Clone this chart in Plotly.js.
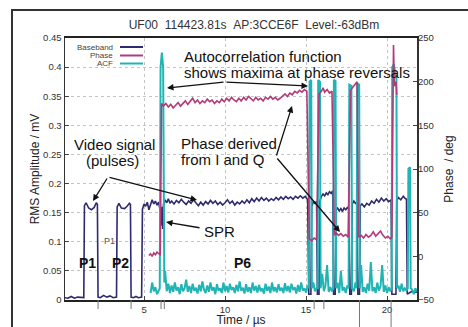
<!DOCTYPE html>
<html><head><meta charset="utf-8">
<script src="https://cdn.plot.ly/plotly-3.0.1.min.js"></script>
<style>body{margin:0;background:#fff}#chart{width:468px;height:327px}</style>
</head><body><div id="chart"></div>
<script>
// ---- data (time in µs) ----
const basebandPts = [
[0.12,0.004],[0.3,0.003],[0.5,0.006],[0.7,0.003],[0.9,0.005],[1.1,0.004],[1.28,0.004],
[1.32,0.162],[1.42,0.167],[1.58,0.158],[1.75,0.155],[1.92,0.159],[2.05,0.167],[2.12,0.164],
[2.16,0.005],[2.3,0.004],[2.5,0.008],[2.7,0.005],[2.9,0.007],[3.1,0.004],[3.3,0.005],
[3.34,0.16],[3.45,0.166],[3.6,0.158],[3.8,0.157],[3.95,0.161],[4.1,0.166],[4.16,0.164],
[4.2,0.005],[4.35,0.004],[4.5,0.006],[4.65,0.004],[4.85,0.005],
[4.9,0.156],[5.0,0.165],[5.1,0.161],[5.2,0.168],[5.3,0.155],[5.4,0.166],[5.5,0.172],[5.6,0.165],[5.7,0.17],[5.8,0.163],[5.9,0.168],
[6.0,0.152],[6.05,0.128],[6.1,0.16],[6.15,0.122],[6.2,0.164],[6.3,0.172],[6.4,0.167],[6.5,0.174],[6.6,0.166],[6.7,0.17],
[6.85,0.165],[7.0,0.171],[7.15,0.167],[7.3,0.173],[7.45,0.168],[7.6,0.164],[7.75,0.17],[7.9,0.166],[8.05,0.172],[8.2,0.167],
[8.35,0.162],[8.5,0.168],[8.65,0.163],[8.8,0.169],[8.95,0.165],[9.1,0.171],[9.25,0.166],[9.4,0.17],[9.55,0.164],[9.7,0.168],
[9.85,0.163],[10.0,0.167],[10.15,0.172],[10.3,0.166],[10.45,0.17],[10.6,0.163],[10.75,0.168],[10.9,0.165],[11.05,0.17],[11.2,0.166],
[11.35,0.172],[11.5,0.167],[11.65,0.174],[11.8,0.169],[11.95,0.175],[12.1,0.17],[12.25,0.176],[12.4,0.171],[12.55,0.175],[12.7,0.17],
[12.85,0.174],[13.0,0.171],[13.15,0.176],[13.3,0.172],[13.45,0.177],[13.6,0.173],[13.75,0.178],[13.9,0.174],[14.05,0.177],[14.2,0.173],
[14.35,0.178],[14.5,0.175],[14.65,0.179],[14.8,0.175],[14.95,0.178],[15.1,0.172],
[15.17,0.01],[15.3,0.01],[15.35,0.16],[15.45,0.17],[15.55,0.165],[15.65,0.17],
[15.7,0.01],[15.8,0.01],[15.85,0.17],[15.95,0.178],[16.05,0.182],[16.15,0.179],[16.25,0.184],[16.35,0.181],[16.45,0.186],[16.55,0.183],[16.65,0.188],
[16.7,0.01],[16.8,0.01],[16.85,0.155],[16.95,0.158],[17.05,0.153],[17.15,0.157],[17.25,0.152],[17.35,0.158],[17.45,0.155],[17.55,0.159],[17.65,0.156],
[17.7,0.01],[17.8,0.01],[17.85,0.165],[17.95,0.17],[18.05,0.166],[18.15,0.168],
[18.2,0.01],[18.3,0.01],[18.35,0.162],[18.45,0.165],[18.6,0.16],[18.75,0.166],[18.9,0.163],[19.05,0.17],[19.2,0.166],[19.35,0.173],
[19.5,0.168],[19.65,0.175],[19.8,0.17],[19.95,0.174],[20.1,0.169],[20.25,0.172],
[20.3,0.01],[20.45,0.01],[20.55,0.01],[20.6,0.17],[20.7,0.176],[20.85,0.172],[21.0,0.178],[21.1,0.175],[21.2,0.173],
[21.25,0.01],[21.4,0.012],[21.55,0.015],[21.7,0.013],[21.85,0.014]
];
const phasePts = [
[5.3,1],[5.4,3],[5.5,0],[5.6,4],[5.7,2],[5.8,5],[5.9,3],[6.0,2],
[6.08,175],[6.2,172],[6.35,175],[6.5,171],[6.65,174],[6.8,170],[6.95,173],[7.1,176],[7.25,172],[7.4,175],[7.55,178],[7.7,174],
[7.85,177],[8.0,181],[8.15,176],[8.3,179],[8.45,175],[8.6,178],[8.75,176],[8.9,180],[9.05,177],[9.2,179],[9.35,175],[9.5,178],
[9.65,176],[9.8,180],[9.95,177],[10.1,181],[10.25,178],[10.4,182],[10.55,179],[10.7,177],[10.85,181],[11.0,178],[11.15,182],
[11.3,179],[11.45,183],[11.6,180],[11.75,178],[11.9,182],[12.05,179],[12.2,181],[12.35,178],[12.5,182],[12.65,180],[12.8,183],
[12.95,180],[13.1,182],[13.25,179],[13.4,181],[13.55,184],[13.7,186],[13.85,183],[14.0,187],[14.15,185],[14.3,189],[14.45,187],
[14.6,190],[14.75,188],[14.9,191],[15.05,189],
[15.2,20],[15.35,18],[15.5,21],[15.65,19],
[15.8,186],[15.95,189],[16.05,193],[16.15,188],[16.3,191],[16.45,187],[16.6,189],
[16.75,24],[16.85,27],[17.0,24],[17.15,26],[17.3,23],[17.45,25],[17.6,22],
[17.75,190],[17.9,194],[18.05,197],[18.15,200],
[18.25,22],[18.4,24],[18.55,21],[18.7,25],[18.85,22],[19.0,24],[19.15,28],[19.3,23],[19.45,26],[19.6,29],[19.75,24],[19.9,21],
[20.05,23],[20.2,20],[20.3,22],
[20.4,242],[20.45,195],[20.55,200],[20.6,185]
];
const acfPts = [
[5.4,0.012],[5.5,0.03],[5.6,0.015],[5.7,0.022],[5.8,0.01],[5.9,0.018],[5.97,0.02],
[6.02,0.40],[6.1,0.425],[6.18,0.40],[6.25,0.03],[6.3,0.05],[6.4,0.015],[6.5,0.028],[6.6,0.012],[6.7,0.025],[6.8,0.014],[6.9,0.03],
[7.0,0.016],[7.1,0.022],[7.2,0.01],[7.3,0.027],[7.4,0.015],[7.5,0.02],[7.6,0.035],[7.7,0.014],[7.8,0.024],[7.9,0.012],[8.0,0.028],
[8.1,0.016],[8.2,0.021],[8.3,0.011],[8.4,0.026],[8.5,0.015],[8.6,0.032],[8.7,0.018],[8.8,0.012],[8.9,0.025],[9.0,0.014],[9.1,0.03],
[9.2,0.016],[9.3,0.022],[9.4,0.01],[9.5,0.027],[9.6,0.016],[9.7,0.02],[9.8,0.012],[9.9,0.03],[10.0,0.015],[10.1,0.024],[10.2,0.013],
[10.3,0.028],[10.4,0.017],[10.5,0.022],[10.6,0.012],[10.7,0.026],[10.8,0.015],[10.9,0.032],[11.0,0.016],[11.1,0.021],[11.2,0.011],
[11.3,0.027],[11.4,0.014],[11.5,0.022],[11.6,0.012],[11.7,0.03],[11.8,0.016],[11.9,0.024],[12.0,0.013],[12.1,0.026],[12.2,0.015],
[12.3,0.02],[12.4,0.011],[12.5,0.028],[12.6,0.016],[12.7,0.023],[12.8,0.012],[12.9,0.03],[13.0,0.015],[13.1,0.022],[13.2,0.013],
[13.3,0.027],[13.4,0.016],[13.5,0.021],[13.6,0.012],[13.7,0.029],[13.8,0.015],[13.9,0.024],[14.0,0.013],[14.1,0.028],[14.2,0.017],
[14.3,0.022],[14.4,0.011],[14.5,0.026],[14.6,0.014],[14.7,0.03],[14.8,0.016],[14.9,0.02],[15.0,0.013],[15.1,0.025],
[15.18,0.02],[15.22,0.375],[15.32,0.378],[15.36,0.02],[15.45,0.03],[15.55,0.015],[15.65,0.02],
[15.72,0.02],[15.75,0.378],[15.86,0.375],[15.9,0.02],[16.0,0.045],[16.1,0.015],[16.2,0.025],[16.3,0.06],[16.4,0.014],[16.5,0.022],[16.6,0.015],
[16.68,0.02],[16.72,0.378],[16.82,0.376],[16.86,0.02],[16.95,0.03],[17.05,0.012],[17.15,0.05],[17.25,0.016],[17.35,0.022],[17.45,0.012],[17.55,0.025],
[17.63,0.02],[17.67,0.37],[17.8,0.368],[17.84,0.02],[17.95,0.015],[18.05,0.03],
[18.12,0.02],[18.16,0.372],[18.28,0.37],[18.32,0.02],[18.4,0.06],[18.5,0.014],[18.6,0.022],[18.7,0.012],[18.8,0.028],[18.9,0.016],
[19.0,0.065],[19.1,0.015],[19.2,0.022],[19.3,0.012],[19.4,0.03],[19.5,0.016],[19.6,0.024],[19.7,0.06],[19.8,0.014],[19.9,0.025],
[20.0,0.012],[20.1,0.022],[20.2,0.015],
[20.28,0.02],[20.32,0.40],[20.42,0.405],[20.5,0.39],[20.58,0.38],[20.62,0.02],[20.7,0.025],[20.8,0.014],[20.9,0.028],[21.0,0.015],[21.1,0.02],[21.2,0.016],
[21.28,0.02],[21.32,0.225],[21.42,0.228],[21.46,0.02],[21.55,0.018],[21.65,0.01],[21.75,0.02],[21.85,0.015]
];
const xTicks = [5,10,15,20];
const leftTicks = [0,0.05,0.1,0.15,0.2,0.25,0.3,0.35,0.4,0.45];
const rightTicks = [-50,0,50,100,150,200,250];
const seriesNames = ['Baseband','Phase','ACF'];
const shortMarks = [2.16,4.2,6.05,6.25,15.5,16.1];
const longMarks = [18.3,20.25];

// ---- drawing ----
const FONT = 'Liberation Sans, Arial, sans-serif';
const colors = {Baseband:'#2e2a6e', Phase:'#b33a7a', ACF:'#20b4b4'};
const col = i => basebandPts.map(p=>p[i]);
const traces = [
  {x:phasePts.map(p=>p[0]), y:phasePts.map(p=>p[1]), yaxis:'y2', mode:'lines', name:'Phase',
   line:{color:colors.Phase,width:1.6}},
  {x:col(0), y:col(1), mode:'lines', name:'Baseband', line:{color:colors.Baseband,width:1.6}},
  {x:acfPts.map(p=>p[0]), y:acfPts.map(p=>p[1]), mode:'lines', name:'ACF', line:{color:colors.ACF,width:2}}
];
const L=65, R=417, T=38, B=300;
const px = v => (v-L)/(R-L);
const py = v => (B-v)/(B-T);
const ann = [];
function txt(t,x,y,opts){ann.push(Object.assign({text:t,x:px(x),y:py(y),xref:'paper',yref:'paper',showarrow:false,
  xanchor:'left',yanchor:'middle',borderpad:0,font:{family:FONT,size:15,color:'#111'}},opts||{}));}
txt('Autocorrelation function',183,56);
txt('shows maxima at phase reversals',183,72);
txt('Video signal',73,144);
txt('(pulses)',112,160,{xanchor:'center'});
txt('Phase derived',180,143);
txt('from I and Q',180,159);
txt('SPR',203,231);
txt('<b>P1</b>',78,263,{font:{family:FONT,size:14,color:'#111'}});
txt('<b>P2</b>',111,263,{font:{family:FONT,size:14,color:'#111'}});
txt('P1',109,241,{xanchor:'center',font:{family:FONT,size:9,color:'#555'}});
txt('<b>P6</b>',233,263,{font:{family:FONT,size:14,color:'#111'}});
const legY=[47,55.5,63.5];
seriesNames.forEach((n,i)=>txt(n,114,legY[i],{xanchor:'right',font:{family:FONT,size:8,color:'#444'}}));
function arrow(tx,ty,ax,ay){ann.push({text:'',x:px(tx),y:py(ty),xref:'paper',yref:'paper',showarrow:true,ax:ax,ay:ay,
  arrowhead:2,arrowsize:1,arrowwidth:1.3,arrowcolor:'#111'});}
arrow(167,88,58,-6);
arrow(308,86,-83,-4);
arrow(93,201,15,-24);
arrow(197,200,-89,-23);
arrow(292,106,-16,51);
arrow(340,232,-64,-75);
arrow(166,222,35,6);

const shapes = [
  {type:'rect',xref:'paper',yref:'paper',x0:px(12),x1:px(472),y0:py(10),y1:py(332),line:{color:'#333',width:2},layer:'above'}
];
seriesNames.forEach((n,i)=>shapes.push({type:'line',xref:'paper',yref:'paper',x0:px(120),x1:px(143),y0:py(legY[i]),y1:py(legY[i]),
  line:{color:colors[n],width:2}}));
shortMarks.forEach(t=>shapes.push({type:'line',xref:'x',yref:'paper',x0:t,x1:t,y0:0,y1:py(309),line:{color:'#777',width:1}}));
longMarks.forEach(t=>shapes.push({type:'line',xref:'x',yref:'paper',x0:t,x1:t,y0:0,y1:py(330),line:{color:'#777',width:1}}));

const axisCommon = {ticks:'inside',ticklen:4,tickcolor:'#444',zeroline:false,tickfont:{family:FONT,size:9.5,color:'#333'}};
const layout = {
  width:468,height:327,margin:{l:L,r:468-R,t:T,b:327-B},paper_bgcolor:'#fff',plot_bgcolor:'#fff',
  showlegend:false,
  title:{text:'UF00\u00a0\u00a0114423.81s\u00a0\u00a0AP:3CCE6F\u00a0\u00a0Level:-63dBm',x:254/468,xref:'container',xanchor:'center',
    y:1-25/327,yref:'container',yanchor:'middle',font:{family:FONT,size:12,color:'#333'}},
  xaxis:Object.assign({},axisCommon,{range:[0.12,21.85],tickvals:xTicks,showline:true,mirror:true,linecolor:'#222',linewidth:1.8,
    showgrid:true,gridcolor:'#c4c4c4',griddash:'3px,3px',tickfont:{family:FONT,size:9.5,color:'#333'},
    title:{text:'Time / µs',standoff:6,font:{family:FONT,size:12,color:'#222'}}}),
  yaxis:Object.assign({},axisCommon,{range:[0,0.45],tickvals:leftTicks,showline:true,mirror:true,linecolor:'#333',linewidth:1.5,
    showgrid:true,gridcolor:'#c4c4c4',griddash:'3px,3px',
    title:{text:'RMS Amplitude / mV',standoff:1,font:{family:FONT,size:12,color:'#222'}}}),
  yaxis2:Object.assign({},axisCommon,{overlaying:'y',side:'right',range:[-50,250],tickvals:rightTicks,showgrid:false,showline:false,
    title:{text:'Phase  / deg',standoff:11,font:{family:FONT,size:12,color:'#222'}}}),
  annotations:ann, shapes:shapes
};
Plotly.newPlot('chart',traces,layout,{staticPlot:true,displayModeBar:false});
</script></body></html>
